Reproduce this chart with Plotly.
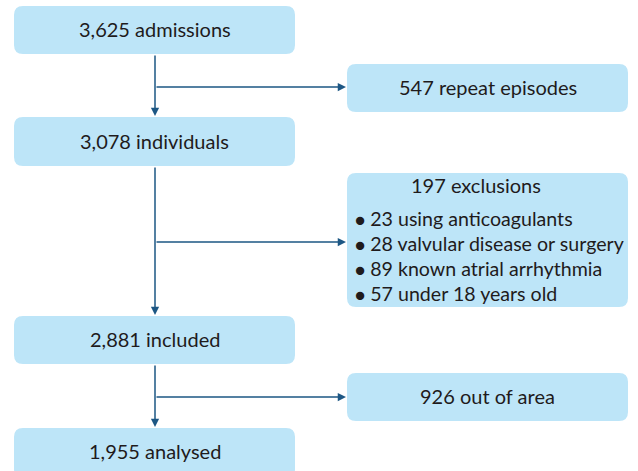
import plotly.graph_objects as go

# flow data
main_counts = [3625, 3078, 2881, 1955]
main_labels = ["admissions", "individuals", "included", "analysed"]
side_counts = [547, 197, 926]
side_labels = ["repeat episodes", "exclusions", "out of area"]
excl_counts = [23, 28, 89, 57]
excl_reasons = ["using anticoagulants", "valvular disease or surgery",
                "known atrial arrhythmia", "under 18 years old"]

W, H = 638, 471
FILL = "#bde5f8"
LINE = "#1d5784"
TXT = "#1f1b1c"
FONT = "Lato"
FS = 20

# layout geometry (pixel coords, y downwards)
main_x = (14, 295)
main_y = [(6, 54), (117, 166), (316, 364), (428, 478)]
side_x = (347, 628)
side_y = [(64, 112), (173, 307), (373, 421)]
branch_y = [87, 242, 397]
stem_x = 155


def rbox(x0, x1, y0, y1, r=9):
    return (f"M {x0+r},{y0} L {x1-r},{y0} Q {x1},{y0} {x1},{y0+r} "
            f"L {x1},{y1-r} Q {x1},{y1} {x1-r},{y1} L {x0+r},{y1} "
            f"Q {x0},{y1} {x0},{y1-r} L {x0},{y0+r} Q {x0},{y0} {x0+r},{y0} Z")


fig = go.Figure()
shapes = []
annots = []

for (y0, y1), n, lab in zip(main_y, main_counts, main_labels):
    shapes.append(dict(type="path", path=rbox(main_x[0], main_x[1], y0, y1),
                       fillcolor=FILL, line=dict(width=0), layer="below"))
    annots.append(dict(x=(main_x[0] + main_x[1]) / 2, y=(y0 + min(y1, 476)) / 2 - 1,
                       text=f"{n:,} {lab}", showarrow=False,
                       font=dict(size=FS, color=TXT, family=FONT)))

for i, ((y0, y1), n, lab) in enumerate(zip(side_y, side_counts, side_labels)):
    shapes.append(dict(type="path", path=rbox(side_x[0], side_x[1], y0, y1),
                       fillcolor=FILL, line=dict(width=0), layer="below"))
    if i == 1:
        annots.append(dict(x=476, y=y0 + 12, text=f"{n:,} {lab}", showarrow=False,
                           font=dict(size=FS, color=TXT, family=FONT)))
        for k, (c, r) in enumerate(zip(excl_counts, excl_reasons)):
            annots.append(dict(x=353, y=y0 + 45 + 25 * k, xanchor="left",
                               text=f"<span style='font-size:17px'>●</span> {c} {r}",
                               showarrow=False,
                               font=dict(size=19.6, color=TXT, family=FONT)))
    else:
        annots.append(dict(x=(side_x[0] + side_x[1]) / 2, y=(y0 + y1) / 2 - 1,
                           text=f"{n:,} {lab}", showarrow=False,
                           font=dict(size=FS, color=TXT, family=FONT)))

# vertical stems with arrowheads into next main box, side branches off them
for i in range(3):
    annots.append(dict(x=stem_x, y=main_y[i + 1][0] - 1, ax=stem_x, ay=main_y[i][1],
                       xref="x", yref="y", axref="x", ayref="y", text="",
                       showarrow=True, arrowhead=2, arrowsize=1.1, arrowwidth=1.5,
                       arrowcolor=LINE, standoff=0))
    annots.append(dict(x=side_x[0] - 1, y=branch_y[i], ax=stem_x, ay=branch_y[i],
                       xref="x", yref="y", axref="x", ayref="y", text="",
                       showarrow=True, arrowhead=2, arrowsize=1.1, arrowwidth=1.5,
                       arrowcolor=LINE, standoff=0))

fig.update_layout(
    width=W, height=H,
    margin=dict(l=0, r=0, t=0, b=0),
    paper_bgcolor="white", plot_bgcolor="white",
    shapes=shapes, annotations=annots,
    xaxis=dict(range=[0, W], visible=False, fixedrange=True),
    yaxis=dict(range=[H, 0], visible=False, fixedrange=True),
    showlegend=False,
)

# drop the default page margin so the figure sits at the window origin
fig.write_html("out.html", post_script="document.body.style.margin='0px';",
               config=dict(displayModeBar=False))
